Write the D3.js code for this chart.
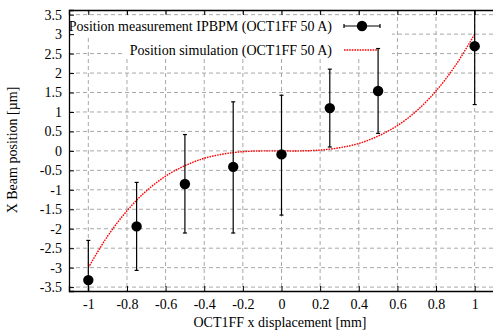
<!DOCTYPE html>
<html>
<head>
<meta charset="utf-8">
<script src="https://cdn.jsdelivr.net/npm/d3@7"></script>
<style>
  body { margin: 0; background: #fff; }
  svg text { font-family: "Liberation Serif", "DejaVu Serif", serif; }
  .grid line { stroke: #a8a8a8; stroke-width: 1; stroke-dasharray: 4,3; }
</style>
</head>
<body>
<svg id="chart" width="493" height="334"></svg>
<script>
// measured points (x displacement, beam position, error bar limits)
let measX = [-1, -0.75, -0.5, -0.25, 0, 0.25, 0.5, 1];
let measY = [-3.32, -1.94, -0.85, -0.41, -0.09, 1.1, 1.54, 2.69];
let measLow = [-4.3, -3.07, -2.11, -2.11, -1.65, 0.1, 0.45, 1.19];
let measHigh = [-2.3, -0.81, 0.42, 1.26, 1.43, 2.1, 2.63, 4.2];

// simulation curve
let simX = [-1, -0.9, -0.8, -0.7, -0.6, -0.5, -0.4, -0.3, -0.2, -0.1, 0,
            0.1, 0.2, 0.3, 0.4, 0.5, 0.6, 0.7, 0.8, 0.9, 1];
let simY = [-3.0, -2.19, -1.54, -1.03, -0.65, -0.38, -0.19, -0.08, -0.02, 0.0, 0,
            0.0, 0.02, 0.08, 0.19, 0.38, 0.65, 1.03, 1.54, 2.19, 3.0];

let xTicks = [-1, -0.8, -0.6, -0.4, -0.2, 0, 0.2, 0.4, 0.6, 0.8, 1];
let yTicks = [-3.5, -3, -2.5, -2, -1.5, -1, -0.5, 0, 0.5, 1, 1.5, 2, 2.5, 3, 3.5];

let legendLabels = ["Position measurement IPBPM (OCT1FF 50 A)",
                    "Position simulation (OCT1FF 50 A)"];

const plotLeft = 69, plotRight = 494, plotTop = 10, plotBottom = 291;
const fmt = v => String(v);
const fontSize = "14px";

let svg = d3.select("#chart");

let x = d3.scaleLinear().domain([-1.1, 1.1]).range([plotLeft, plotRight]);
let y = d3.scaleLinear().domain([-3.6, 3.62]).range([plotBottom, plotTop]);

svg.append("defs").append("clipPath").attr("id", "plotClip")
  .append("rect")
  .attr("x", plotLeft).attr("y", plotTop)
  .attr("width", plotRight - plotLeft).attr("height", plotBottom - plotTop);

// grid
let grid = svg.append("g").attr("class", "grid");
grid.selectAll(".gx").data(xTicks).join("line")
  .attr("x1", d => x(d)).attr("x2", d => x(d))
  .attr("y1", plotTop).attr("y2", plotBottom);
grid.selectAll(".gy").data(yTicks).join("line")
  .attr("x1", plotLeft).attr("x2", plotRight)
  .attr("y1", d => y(d)).attr("y2", d => y(d));

// opaque legend backgrounds
svg.append("rect").attr("x", 70).attr("y", 17).attr("width", 322).attr("height", 20).attr("fill", "#fff");
svg.append("rect").attr("x", 125).attr("y", 38).attr("width", 267).attr("height", 21).attr("fill", "#fff");

// axes (ticks pointing inward, like gnuplot)
let xAxis = svg.append("g").attr("transform", `translate(0,${plotBottom})`)
  .call(d3.axisBottom(x).tickValues(xTicks).tickSize(-5).tickPadding(8).tickFormat(fmt));
let xAxisTop = svg.append("g").attr("transform", `translate(0,${plotTop})`)
  .call(d3.axisTop(x).tickValues(xTicks).tickSize(-5).tickFormat(""));
let yAxis = svg.append("g").attr("transform", `translate(${plotLeft},0)`)
  .call(d3.axisLeft(y).tickValues(yTicks).tickSize(-5).tickPadding(7).tickFormat(fmt));

[xAxis, xAxisTop, yAxis].forEach(function (a) {
  a.select(".domain").attr("stroke", "#000").attr("stroke-width", 1.3);
  a.selectAll(".tick line").attr("stroke", "#000");
  a.selectAll("text").attr("fill", "#000").style("font-size", fontSize);
});

// simulation curve
let line = d3.line()
  .x((d, i) => x(simX[i]))
  .y(d => y(d))
  .curve(d3.curveCatmullRom);

let plot = svg.append("g").attr("clip-path", "url(#plotClip)");

plot.append("path")
  .datum(simY)
  .attr("d", line)
  .attr("fill", "none")
  .attr("stroke", "#ff0000")
  .attr("stroke-width", 1.4)
  .attr("stroke-dasharray", "1.6,1");

// error bars
measX.forEach(function (mx, i) {
  let cx = x(mx);
  plot.append("line")
    .attr("x1", cx).attr("x2", cx)
    .attr("y1", y(measLow[i])).attr("y2", y(measHigh[i]))
    .attr("stroke", "#000").attr("stroke-width", 1.2);
  [measLow[i], measHigh[i]].forEach(function (v) {
    plot.append("line")
      .attr("x1", cx - 2).attr("x2", cx + 2)
      .attr("y1", y(v)).attr("y2", y(v))
      .attr("stroke", "#000").attr("stroke-width", 1.2);
  });
  plot.append("circle")
    .attr("cx", cx).attr("cy", y(measY[i])).attr("r", 5.2)
    .attr("fill", "#000");
});

// legend
let legend = svg.append("g").style("font-size", fontSize);
legend.append("text").attr("x", 332).attr("y", 26).attr("dy", "0.35em")
  .attr("text-anchor", "end").text(legendLabels[0]);
legend.append("text").attr("x", 332).attr("y", 50).attr("dy", "0.35em")
  .attr("text-anchor", "end").text(legendLabels[1]);

legend.append("line").attr("x1", 344).attr("x2", 380).attr("y1", 26).attr("y2", 26)
  .attr("stroke", "#000").attr("stroke-width", 1.2);
[344, 380].forEach(function (lx) {
  legend.append("line").attr("x1", lx).attr("x2", lx).attr("y1", 24).attr("y2", 28)
    .attr("stroke", "#000").attr("stroke-width", 1.2);
});
legend.append("circle").attr("cx", 362).attr("cy", 26).attr("r", 5.2).attr("fill", "#000");

legend.append("line").attr("x1", 344).attr("x2", 378).attr("y1", 50).attr("y2", 50)
  .attr("stroke", "#ff0000").attr("stroke-width", 1.4).attr("stroke-dasharray", "1.6,1");

// axis titles
svg.append("text")
  .attr("x", 280).attr("y", 327)
  .attr("text-anchor", "middle")
  .style("font-size", fontSize)
  .text("OCT1FF x displacement [mm]");

svg.append("text")
  .attr("transform", "translate(17,150) rotate(-90)")
  .attr("text-anchor", "middle")
  .style("font-size", fontSize)
  .text("X Beam position [µm]");
</script>
</body>
</html>
